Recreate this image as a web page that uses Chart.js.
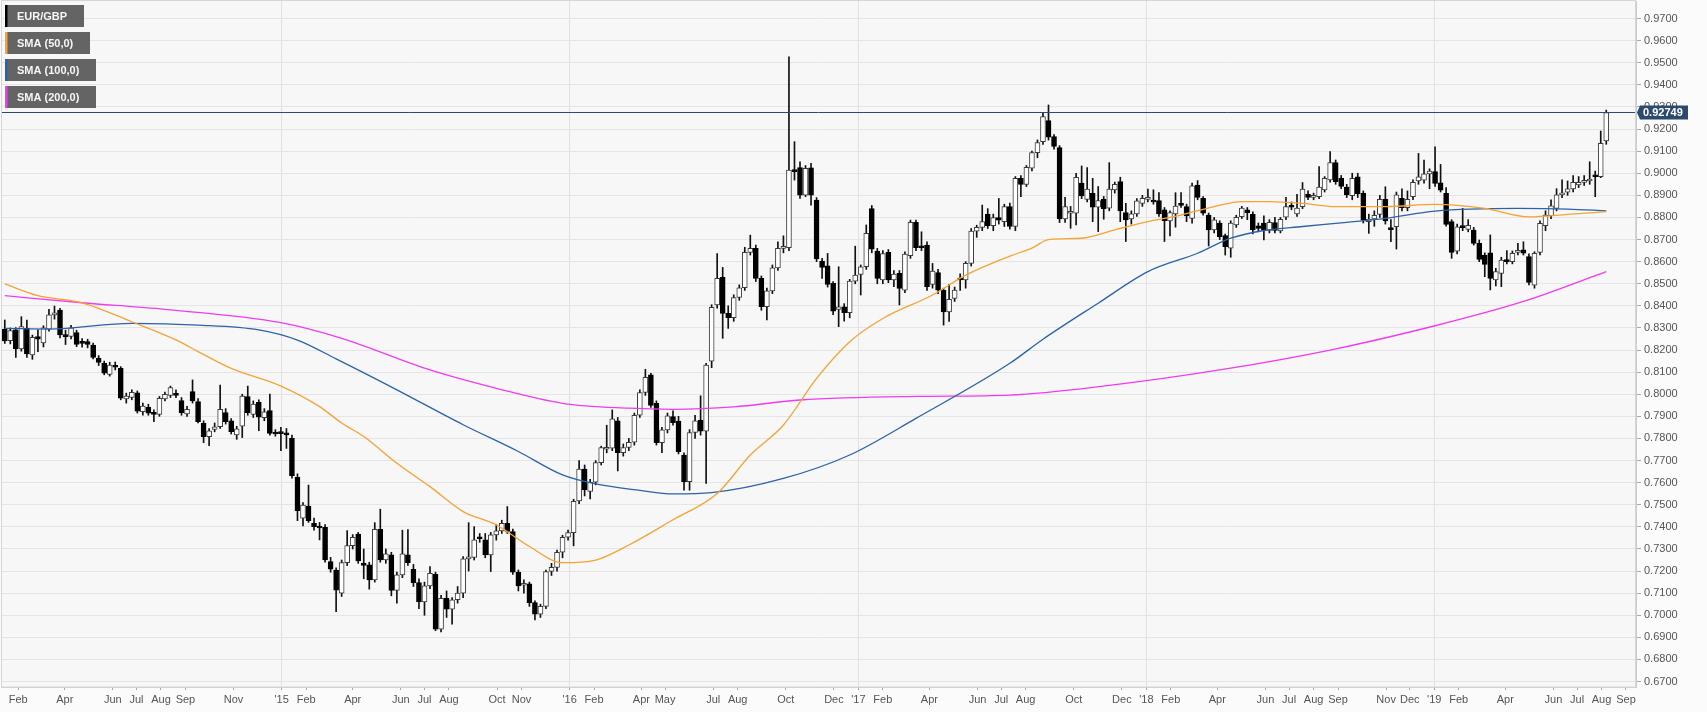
<!DOCTYPE html>
<html>
<head>
<meta charset="utf-8">
<title>EUR/GBP weekly</title>
<script src="https://cdn.jsdelivr.net/npm/chart.js@4.4.1/dist/chart.umd.min.js"></script>
<style>
  html, body { margin: 0; padding: 0; background: #fbfbfb; }
  #wrap { width: 1707px; height: 712px; }
</style>
</head>
<body>
<div id="wrap"><canvas id="myChart" width="1707" height="712"></canvas></div>
<script>
// weekly candles, first one is the week of Mon 13 Jan 2014, last one the week of 5 Aug 2019
var firstWeek = '2014-01-13';

var opens = [
  0.8295,0.8242,0.8291,0.8205,0.8298,0.8178,0.8261,0.8232,0.8295,0.8359,
  0.8381,0.8268,0.8262,0.8279,0.8238,0.8238,0.8223,0.8163,0.8140,0.8090,
  0.8129,0.8117,0.7979,0.7986,0.8007,0.7921,0.7941,0.7914,0.7909,0.7979,
  0.7995,0.8000,0.7971,0.7911,0.8012,0.7967,0.7868,0.7808,0.7841,0.7853,
  0.7917,0.7880,0.7816,0.7856,0.7989,0.7909,0.7964,0.7894,0.7926,0.7826,
  0.7826,0.7826,0.7801,0.7624,0.7439,0.7494,0.7416,0.7398,0.7398,0.7243,
  0.7205,0.7100,0.7238,0.7315,0.7367,0.7235,0.7228,0.7160,0.7389,0.7250,
  0.7273,0.7112,0.7183,0.7273,0.7208,0.7148,0.7060,0.7133,0.7185,0.6937,
  0.7077,0.7027,0.7070,0.7100,0.7255,0.7262,0.7352,0.7341,0.7273,0.7364,
  0.7382,0.7416,0.7379,0.7195,0.7136,0.7142,0.7057,0.7005,0.7040,0.7198,
  0.7217,0.7285,0.7353,0.7374,0.7517,0.7661,0.7560,0.7602,0.7691,0.7751,
  0.7756,0.7880,0.7736,0.7759,0.7783,0.7905,0.8008,0.8088,0.7959,0.7781,
  0.7839,0.7899,0.7879,0.7725,0.7604,0.7827,0.7883,0.7833,0.8150,0.8404,
  0.8529,0.8366,0.8346,0.8438,0.8482,0.8642,0.8660,0.8524,0.8396,0.8468,
  0.8572,0.8660,0.8663,0.9014,0.9026,0.8901,0.9025,0.8879,0.8603,0.8581,
  0.8502,0.8384,0.8396,0.8369,0.8512,0.8542,0.8577,0.8840,0.8648,0.8517,
  0.8642,0.8517,0.8547,0.8471,0.8627,0.8778,0.8667,0.8675,0.8497,0.8550,
  0.8471,0.8373,0.8434,0.8524,0.8517,0.8592,0.8738,0.8755,0.8814,0.8763,
  0.8799,0.8781,0.8849,0.8759,0.8977,0.8950,0.9023,0.9093,0.9143,0.9238,
  0.9166,0.9116,0.8793,0.8819,0.8819,0.8955,0.8882,0.8909,0.8846,0.8882,
  0.8842,0.8925,0.8962,0.8822,0.8793,0.8816,0.8864,0.8882,0.8879,0.8876,
  0.8834,0.8784,0.8816,0.8861,0.8849,0.8796,0.8946,0.8887,0.8811,0.8744,
  0.8774,0.8718,0.8661,0.8766,0.8804,0.8834,0.8814,0.8762,0.8774,0.8741,
  0.8777,0.8739,0.8801,0.8852,0.8816,0.8849,0.8905,0.8891,0.8894,0.8925,
  0.8970,0.9048,0.8977,0.8937,0.8899,0.8984,0.8909,0.8781,0.8793,0.8814,
  0.8882,0.8750,0.8758,0.8886,0.8844,0.8894,0.8965,0.8969,0.8997,0.9007,
  0.8957,0.8909,0.8781,0.8648,0.8758,0.8746,0.8743,0.8683,0.8630,0.8640,
  0.8517,0.8547,0.8604,0.8600,0.8642,0.8653,0.8623,0.8494,0.8642,0.8763,
  0.8808,0.8841,0.8902,0.8914,0.8929,0.8947,0.8959,0.8965,0.8991,0.8984,
  0.9146
];
var highs = [
  0.8336,0.8300,0.8302,0.8351,0.8336,0.8268,0.8291,0.8310,0.8384,0.8399,
  0.8389,0.8290,0.8312,0.8290,0.8252,0.8249,0.8231,0.8175,0.8150,0.8145,
  0.8146,0.8125,0.8005,0.8020,0.8015,0.7960,0.7955,0.7930,0.7990,0.8010,
  0.8037,0.8020,0.7985,0.7945,0.8065,0.7980,0.7880,0.7845,0.7870,0.8042,
  0.7935,0.7890,0.7855,0.8000,0.8037,0.7970,0.7975,0.7935,0.8001,0.7840,
  0.7850,0.7845,0.7815,0.7640,0.7510,0.7589,0.7440,0.7420,0.7410,0.7262,
  0.7215,0.7250,0.7383,0.7365,0.7375,0.7300,0.7240,0.7419,0.7480,0.7300,
  0.7285,0.7195,0.7385,0.7388,0.7230,0.7165,0.7150,0.7220,0.7195,0.7090,
  0.7110,0.7080,0.7130,0.7265,0.7419,0.7401,0.7370,0.7370,0.7375,0.7410,
  0.7430,0.7492,0.7390,0.7205,0.7160,0.7150,0.7065,0.7050,0.7205,0.7235,
  0.7295,0.7362,0.7385,0.7525,0.7700,0.7680,0.7615,0.7700,0.7765,0.7860,
  0.7929,0.7895,0.7775,0.7800,0.7915,0.8020,0.8113,0.8095,0.7970,0.7850,
  0.7915,0.7925,0.7900,0.7735,0.7840,0.7905,0.7993,0.8140,0.8405,0.8637,
  0.8574,0.8400,0.8450,0.8495,0.8665,0.8720,0.8675,0.8535,0.8480,0.8585,
  0.8690,0.8717,0.9527,0.9143,0.9052,0.9035,0.9045,0.8890,0.8615,0.8637,
  0.8510,0.8577,0.8410,0.8520,0.8670,0.8585,0.8766,0.8854,0.8660,0.8650,
  0.8655,0.8560,0.8560,0.8645,0.8788,0.8788,0.8735,0.8690,0.8592,0.8565,
  0.8480,0.8497,0.8485,0.8545,0.8600,0.8750,0.8765,0.8856,0.8840,0.8815,
  0.8886,0.8860,0.8865,0.8985,0.8990,0.9035,0.9100,0.9151,0.9271,0.9309,
  0.9175,0.9125,0.8891,0.8850,0.9000,0.9033,0.9026,0.8977,0.8940,0.8895,
  0.9048,0.8960,0.8982,0.8864,0.8830,0.8885,0.8900,0.8928,0.8925,0.8912,
  0.8845,0.8830,0.8912,0.8912,0.8860,0.8955,0.8967,0.8895,0.8820,0.8800,
  0.8785,0.8725,0.8785,0.8810,0.8850,0.8845,0.8825,0.8775,0.8807,0.8790,
  0.8800,0.8800,0.8891,0.8870,0.8905,0.8958,0.8920,0.8910,0.9030,0.8985,
  0.9098,0.9060,0.8990,0.8950,0.9000,0.9000,0.8920,0.8815,0.8830,0.8900,
  0.8939,0.8790,0.8915,0.8930,0.8920,0.8970,0.9090,0.9060,0.9020,0.9120,
  0.9040,0.8935,0.8790,0.8770,0.8841,0.8790,0.8755,0.8698,0.8640,0.8721,
  0.8570,0.8620,0.8650,0.8648,0.8683,0.8690,0.8635,0.8645,0.8785,0.8830,
  0.8880,0.8930,0.8970,0.8965,0.8990,0.8985,0.8990,0.9052,0.9010,0.9191,
  0.9286
];
var lows = [
  0.8230,0.8228,0.8167,0.8195,0.8167,0.8158,0.8193,0.8214,0.8286,0.8340,
  0.8255,0.8225,0.8250,0.8215,0.8213,0.8210,0.8160,0.8130,0.8088,0.8082,
  0.8110,0.7975,0.7960,0.7975,0.7915,0.7905,0.7905,0.7876,0.7900,0.7970,
  0.7985,0.7985,0.7905,0.7900,0.7960,0.7870,0.7781,0.7767,0.7830,0.7845,
  0.7865,0.7820,0.7796,0.7804,0.7905,0.7895,0.7835,0.7880,0.7815,0.7810,
  0.7745,0.7755,0.7620,0.7428,0.7404,0.7420,0.7385,0.7341,0.7240,0.7195,
  0.7016,0.7085,0.7225,0.7300,0.7235,0.7165,0.7118,0.7150,0.7240,0.7235,
  0.7088,0.7055,0.7170,0.7225,0.7130,0.7030,0.7000,0.7120,0.6930,0.6925,
  0.6990,0.6960,0.7055,0.7080,0.7200,0.7250,0.7330,0.7260,0.7198,0.7340,
  0.7370,0.7370,0.7185,0.7110,0.7100,0.7040,0.6979,0.6990,0.7030,0.7180,
  0.7200,0.7260,0.7340,0.7314,0.7505,0.7540,0.7526,0.7590,0.7680,0.7735,
  0.7745,0.7653,0.7720,0.7745,0.7770,0.7895,0.7995,0.7940,0.7770,0.7736,
  0.7825,0.7860,0.7730,0.7566,0.7566,0.7800,0.7815,0.7597,0.8120,0.8390,
  0.8253,0.8298,0.8330,0.8425,0.8470,0.8630,0.8510,0.8380,0.8336,0.8455,
  0.8560,0.8640,0.8650,0.8969,0.8886,0.8894,0.8856,0.8600,0.8524,0.8485,
  0.8360,0.8306,0.8331,0.8346,0.8500,0.8449,0.8565,0.8640,0.8500,0.8500,
  0.8505,0.8487,0.8404,0.8460,0.8615,0.8650,0.8650,0.8470,0.8480,0.8455,
  0.8313,0.8330,0.8420,0.8470,0.8480,0.8580,0.8710,0.8740,0.8750,0.8740,
  0.8770,0.8759,0.8747,0.8740,0.8894,0.8940,0.9010,0.9070,0.9130,0.9150,
  0.9109,0.8777,0.8777,0.8751,0.8766,0.8885,0.8870,0.8781,0.8736,0.8792,
  0.8830,0.8910,0.8781,0.8691,0.8770,0.8805,0.8850,0.8870,0.8860,0.8805,
  0.8691,0.8716,0.8756,0.8845,0.8781,0.8774,0.8880,0.8810,0.8671,0.8730,
  0.8700,0.8630,0.8620,0.8755,0.8795,0.8790,0.8725,0.8735,0.8698,0.8730,
  0.8730,0.8730,0.8790,0.8835,0.8805,0.8840,0.8880,0.8880,0.8885,0.8915,
  0.8960,0.8950,0.8930,0.8890,0.8880,0.8890,0.8775,0.8728,0.8760,0.8800,
  0.8770,0.8690,0.8657,0.8830,0.8830,0.8880,0.8950,0.8955,0.8930,0.8940,
  0.8915,0.8760,0.8615,0.8635,0.8740,0.8735,0.8675,0.8600,0.8532,0.8472,
  0.8490,0.8487,0.8590,0.8590,0.8630,0.8630,0.8495,0.8480,0.8630,0.8740,
  0.8795,0.8830,0.8890,0.8900,0.8915,0.8935,0.8945,0.8950,0.8894,0.8980,
  0.9131
];
var closes = [
  0.8241,0.8288,0.8205,0.8306,0.8182,0.8258,0.8249,0.8301,0.8359,0.8366,
  0.8268,0.8261,0.8301,0.8226,0.8230,0.8226,0.8167,0.8144,0.8095,0.8132,
  0.8122,0.7982,0.7992,0.8009,0.7924,0.7947,0.7914,0.7909,0.7982,0.8000,
  0.8030,0.7995,0.7917,0.7932,0.7970,0.7876,0.7808,0.7834,0.7853,0.7932,
  0.7876,0.7831,0.7843,0.7992,0.7917,0.7956,0.7896,0.7921,0.7823,0.7820,
  0.7822,0.7816,0.7632,0.7473,0.7499,0.7428,0.7401,0.7395,0.7250,0.7208,
  0.7114,0.7238,0.7315,0.7353,0.7246,0.7225,0.7160,0.7389,0.7250,0.7278,
  0.7112,0.7183,0.7278,0.7238,0.7148,0.7060,0.7133,0.7190,0.6937,0.7077,
  0.7027,0.7070,0.7100,0.7255,0.7262,0.7341,0.7346,0.7273,0.7364,0.7382,
  0.7416,0.7379,0.7195,0.7133,0.7142,0.7057,0.7005,0.7040,0.7198,0.7217,
  0.7285,0.7353,0.7374,0.7515,0.7661,0.7567,0.7602,0.7691,0.7759,0.7756,
  0.7889,0.7736,0.7759,0.7783,0.7905,0.8008,0.8077,0.7949,0.7781,0.7839,
  0.7902,0.7872,0.7740,0.7604,0.7827,0.7880,0.7833,0.8132,0.8393,0.8524,
  0.8366,0.8346,0.8438,0.8482,0.8642,0.8660,0.8524,0.8396,0.8468,0.8572,
  0.8660,0.8663,0.9014,0.9007,0.8901,0.9022,0.8901,0.8612,0.8574,0.8497,
  0.8376,0.8396,0.8369,0.8512,0.8539,0.8577,0.8728,0.8657,0.8524,0.8637,
  0.8517,0.8544,0.8479,0.8634,0.8778,0.8663,0.8663,0.8487,0.8557,0.8471,
  0.8373,0.8430,0.8471,0.8517,0.8592,0.8738,0.8755,0.8781,0.8763,0.8799,
  0.8788,0.8849,0.8759,0.8977,0.8950,0.9027,0.9093,0.9139,0.9256,0.9163,
  0.9121,0.8793,0.8849,0.8822,0.8982,0.8897,0.8928,0.8846,0.8876,0.8840,
  0.8928,0.8950,0.8830,0.8789,0.8816,0.8875,0.8887,0.8885,0.8870,0.8816,
  0.8786,0.8822,0.8852,0.8855,0.8807,0.8943,0.8891,0.8819,0.8744,0.8789,
  0.8713,0.8668,0.8774,0.8801,0.8842,0.8822,0.8744,0.8750,0.8744,0.8778,
  0.8741,0.8792,0.8849,0.8846,0.8842,0.8928,0.8891,0.8897,0.8937,0.8977,
  0.9048,0.8962,0.8940,0.8902,0.8977,0.8906,0.8788,0.8793,0.8810,0.8882,
  0.8784,0.8745,0.8902,0.8844,0.8882,0.8959,0.8984,0.8997,0.9010,0.8954,
  0.8924,0.8769,0.8642,0.8758,0.8754,0.8764,0.8683,0.8610,0.8588,0.8524,
  0.8555,0.8607,0.8600,0.8638,0.8651,0.8638,0.8506,0.8638,0.8773,0.8811,
  0.8853,0.8902,0.8909,0.8929,0.8959,0.8959,0.8965,0.8972,0.8984,0.9135,
  0.92749
];

// moving averages: week number (from firstWeek) and value
var sma50Weeks  = [0,6,14,23,31,35,41,50,57,61,65,71,77,83,89,95,101,107,113,121,129,135,141,147,153,159,168,174,182,186,189,195,201,207,213,219,224,229,235,241,250,259,268,276,283,290];
var sma50Values = [0.8499,0.8446,0.8414,0.8328,0.8246,0.8193,0.8117,0.8037,0.7944,0.7870,0.7809,0.7688,0.7582,0.7469,0.7409,0.7311,0.7238,0.7250,0.7318,0.7432,0.7551,0.7725,0.7861,0.8072,0.8238,0.8343,0.8449,0.8539,0.8625,0.8661,0.8700,0.8706,0.8744,0.8781,0.8811,0.8849,0.8872,0.8872,0.8864,0.8849,0.8849,0.8859,0.8841,0.8803,0.8814,0.8826];
var sma100Weeks  = [0,8,23,35,46,53,60,71,83,93,101,107,115,121,128,141,153,165,182,188,198,207,216,222,228,235,243,250,259,274,283,290];
var sma100Values = [0.8298,0.8295,0.8321,0.8313,0.8291,0.8245,0.8160,0.8020,0.7862,0.7741,0.7635,0.7594,0.7565,0.7549,0.7555,0.7619,0.7725,0.7891,0.8140,0.8249,0.8412,0.8555,0.8638,0.8706,0.8741,0.8759,0.8778,0.8796,0.8829,0.8841,0.8838,0.8830];
var sma200Weeks  = [0,14,29,50,61,77,89,101,113,121,132,144,165,182,200,220,240,259,275,290];
var sma200Values = [0.8446,0.8414,0.8384,0.8324,0.8253,0.8110,0.8027,0.7959,0.7937,0.7932,0.7943,0.7974,0.7990,0.7996,0.8040,0.8110,0.8200,0.8310,0.8420,0.8555];

var priceTicks = [0.67,0.68,0.69,0.70,0.71,0.72,0.73,0.74,0.75,0.76,0.77,0.78,0.79,0.80,0.81,0.82,
                  0.83,0.84,0.85,0.86,0.87,0.88,0.89,0.90,0.91,0.92,0.93,0.94,0.95,0.96,0.97];
var monthTicks = ['2014-02','2014-04','2014-06','2014-07','2014-08','2014-09','2014-11',
                  '2015-01','2015-02','2015-04','2015-06','2015-07','2015-08','2015-10','2015-11',
                  '2016-01','2016-02','2016-04','2016-05','2016-07','2016-08','2016-10','2016-12',
                  '2017-01','2017-02','2017-04','2017-06','2017-07','2017-08','2017-10','2017-12',
                  '2018-01','2018-02','2018-04','2018-06','2018-07','2018-08','2018-09','2018-11','2018-12',
                  '2019-01','2019-02','2019-04','2019-06','2019-07','2019-08','2019-09'];
var monthLabels = ['Feb','Apr','Jun','Jul','Aug','Sep','Nov',
                   "'15",'Feb','Apr','Jun','Jul','Aug','Oct','Nov',
                   "'16",'Feb','Apr','May','Jul','Aug','Oct','Dec',
                   "'17",'Feb','Apr','Jun','Jul','Aug','Oct','Dec',
                   "'18",'Feb','Apr','Jun','Jul','Aug','Sep','Nov','Dec',
                   "'19",'Feb','Apr','Jun','Jul','Aug','Sep'];

var seriesNames = ['EUR/GBP', 'SMA (50,0)', 'SMA (100,0)', 'SMA (200,0)'];
var seriesColors = ['#000000', '#f5a332', '#2a63a6', '#ef3cf0'];

// x axis is in days since 1 Jan 2014
var DAY = 86400000;
var origin = Date.UTC(2014, 0, 1);
function dayOf(str) {
  var p = str.split('-').map(Number);
  return (Date.UTC(p[0], p[1] - 1, p[2] || 1) - origin) / DAY;
}
function weekX(i) {
  return dayOf(firstWeek) + 7 * i + 2; // middle of the trading week
}

var lastClose = closes[closes.length - 1];

var wickData = opens.map(function (o, i) { return {x: weekX(i), y: [lows[i], highs[i]]}; });
var bodyData = opens.map(function (o, i) { return {x: weekX(i), y: [o, closes[i]]}; });
var bodyFill = opens.map(function (o, i) { return closes[i] >= o ? '#ffffff' : '#000000'; });
var bodyEdge = opens.map(function (o, i) { return closes[i] >= o ? '#3c3c3c' : '#000000'; });

function smaLine(name, color, weeks, values) {
  return {
    type: 'line',
    label: name,
    data: weeks.map(function (w, k) { return {x: weekX(w), y: values[k]}; }),
    borderColor: color,
    borderWidth: 1.3,
    pointRadius: 0,
    cubicInterpolationMode: 'monotone',
    order: 1
  };
}

var backdrop = {
  id: 'backdrop',
  beforeDraw: function (chart) {
    var ctx = chart.ctx, a = chart.chartArea;
    ctx.save();
    ctx.fillStyle = '#fbfbfb';
    ctx.fillRect(0, 0, chart.width, chart.height);
    ctx.fillStyle = '#f7f7f7';
    ctx.fillRect(a.left, a.top, a.right - a.left, a.bottom - a.top);
    ctx.restore();
  }
};

var overlay = {
  id: 'overlay',
  afterDatasetsDraw: function (chart) {
    var ctx = chart.ctx, a = chart.chartArea;
    var y = Math.round(chart.scales.y.getPixelForValue(lastClose)) + 0.5;
    ctx.save();
    ctx.strokeStyle = '#2f4a6c';
    ctx.lineWidth = 1;
    ctx.beginPath();
    ctx.moveTo(a.left, y);
    ctx.lineTo(a.right, y);
    ctx.stroke();
    ctx.restore();
  },
  afterDraw: function (chart) {
    var ctx = chart.ctx, a = chart.chartArea;
    ctx.save();
    // frame round the plot
    ctx.strokeStyle = '#d4d6de';
    ctx.lineWidth = 1;
    ctx.strokeRect(a.left + 0.5, a.top - 0.5, a.right - a.left - 1, a.bottom - a.top + 0.5);

    // legend boxes
    ctx.font = 'bold 11px "Liberation Sans", Arial, sans-serif';
    ctx.textBaseline = 'middle';
    seriesNames.forEach(function (name, k) {
      var top = 5 + k * 27;
      var w = Math.round(ctx.measureText(name).width) + 29;
      ctx.fillStyle = 'rgba(88,88,88,0.93)';
      ctx.fillRect(5, top, w, 22);
      ctx.fillStyle = seriesColors[k];
      ctx.fillRect(5, top, 2.5, 22);
      ctx.fillStyle = '#f6f6f6';
      ctx.fillText(name, 17, top + 11.5);
    });

    // last price tag
    var y = Math.round(chart.scales.y.getPixelForValue(lastClose)) + 0.5;
    var x0 = a.right + 1;
    ctx.fillStyle = '#2d4a6e';
    ctx.beginPath();
    ctx.moveTo(x0, y);
    ctx.lineTo(x0 + 3, y - 7);
    ctx.lineTo(x0 + 51, y - 7);
    ctx.lineTo(x0 + 51, y + 7);
    ctx.lineTo(x0 + 3, y + 7);
    ctx.closePath();
    ctx.fill();
    ctx.fillStyle = '#ffffff';
    ctx.font = 'bold 11px "Liberation Sans", Arial, sans-serif';
    ctx.fillText(lastClose.toFixed(5), x0 + 6, y + 0.5);
    ctx.restore();
  }
};

Chart.defaults.font.family = '"Liberation Sans", Arial, sans-serif';
Chart.defaults.font.size = 11;
Chart.defaults.color = '#555555';

new Chart(document.getElementById('myChart'), {
  type: 'bar',
  data: {
    datasets: [
      smaLine(seriesNames[1], seriesColors[1], sma50Weeks, sma50Values),
      smaLine(seriesNames[2], seriesColors[2], sma100Weeks, sma100Values),
      smaLine(seriesNames[3], seriesColors[3], sma200Weeks, sma200Values),
      {
        type: 'bar',
        label: seriesNames[0],
        data: bodyData,
        backgroundColor: bodyFill,
        borderColor: bodyEdge,
        borderWidth: 1,
        borderSkipped: false,
        barThickness: 5,
        minBarLength: 2,
        grouped: false,
        order: 2
      },
      {
        type: 'bar',
        label: 'wicks',
        data: wickData,
        backgroundColor: '#111111',
        barThickness: 1,
        grouped: false,
        order: 3
      }
    ]
  },
  options: {
    responsive: false,
    animation: false,
    events: [],
    layout: {padding: {left: 1, top: 1, right: 0, bottom: 0}},
    plugins: {
      legend: {display: false},
      tooltip: {enabled: false},
      title: {display: false}
    },
    scales: {
      x: {
        type: 'linear',
        min: 9.2,
        max: 2081.7,
        offset: false,
        afterBuildTicks: function (s) {
          s.ticks = monthTicks.map(function (m) { return {value: dayOf(m)}; });
        },
        afterFit: function (s) {
          s.height = 25;
          s.paddingLeft = 0;
          s.paddingRight = 0;
        },
        ticks: {
          autoSkip: false,
          maxRotation: 0,
          padding: 3,
          color: '#555555',
          callback: function (v, i) { return monthLabels[i]; }
        },
        grid: {
          offset: false,
          color: function (c) {
            return (monthLabels[c.index] || '').charAt(0) === "'" ? '#e1e1e1' : 'rgba(0,0,0,0)';
          },
          tickColor: '#a8a8a8',
          tickLength: 3
        },
        border: {color: '#cccccc'}
      },
      y: {
        type: 'linear',
        position: 'right',
        min: 0.66754,
        max: 0.97794,
        afterBuildTicks: function (s) {
          s.ticks = priceTicks.map(function (v) { return {value: v}; });
        },
        afterFit: function (s) {
          s.width = 71;
          s.paddingTop = 0;
          s.paddingBottom = 0;
        },
        ticks: {
          padding: 3,
          color: '#555555',
          callback: function (v) { return Number(v).toFixed(4); }
        },
        grid: {
          color: '#e5e5e5',
          tickColor: '#a8a8a8',
          tickLength: 5
        },
        border: {color: '#cccccc'}
      }
    }
  },
  plugins: [backdrop, overlay]
});
</script>
</body>
</html>
